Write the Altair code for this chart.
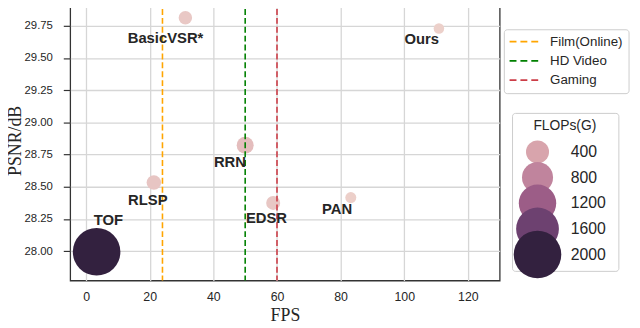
import altair as alt
import pandas as pd

# ---- data ----
methods = ["TOF", "RLSP", "BasicVSR*", "RRN", "EDSR", "PAN", "Ours"]
fps = [3.3, 21.3, 31.2, 50.0, 58.8, 83.2, 110.9]
psnr = [27.995, 28.533, 29.813, 28.822, 28.375, 28.416, 29.729]
flops = [2000, 105, 77, 177, 91, 22, 12]
# where each method name is written (data units)
label_fps = [7.0, 19.4, 24.96, 45.2, 56.7, 78.9, 105.5]
label_psnr = [28.244, 28.397, 29.656, 28.692, 28.254, 28.328, 29.644]

targets = ["Film(Online)", "HD Video", "Gaming"]
target_fps = [24, 50, 60]
target_colors = ["#ffa500", "#008000", "#cc3d47"]

size_title = "FLOPs(G)"
legend_flops = [400, 800, 1200, 1600, 2000]
legend_labels = ["400", "800", "1200", "1600", "2000"]
flops_stops = [0, 400, 800, 1200, 1600, 2000]
flops_colors = ["#edd1cb", "#d8a4ac", "#c0849d", "#9c5d87", "#6d4170", "#33213f"]
flops_areas = [100, 544, 988, 1432, 1876, 2320]

x_ticks = [0, 20, 40, 60, 80, 100, 120]
y_ticks = [28.0, 28.25, 28.5, 28.75, 29.0, 29.25, 29.5, 29.75]

pts = pd.DataFrame({"method": methods, "fps": fps, "psnr": psnr, "flops": flops})
labels = pd.DataFrame({"method": methods, "fps": label_fps, "psnr": label_psnr})
lines = pd.DataFrame({"target": targets, "fps": target_fps})
leg = pd.DataFrame({"flops": legend_flops, "label": legend_labels})
leg_title = pd.DataFrame({"t": [size_title]})

TXT = "#262626"
SANS = "Liberation Sans"

X = alt.X(
    "fps:Q",
    scale=alt.Scale(domain=[-5, 130], nice=False, zero=False),
    axis=alt.Axis(
        values=x_ticks, title="FPS", ticks=False, labelPadding=10,
        labelFont=SANS, labelFontSize=12.5, labelColor=TXT,
        titleFont="Liberation Serif", titleFontSize=18, titleFontWeight="normal",
        titleColor=TXT, titlePadding=4, domain=False,
        grid=True, gridColor="#d6d6d6", gridWidth=1.3,
    ),
)
y_scale = alt.Scale(domain=[27.772, 29.949], nice=False, zero=False)
Y = alt.Y(
    "psnr:Q",
    scale=y_scale,
    axis=alt.Axis(
        values=y_ticks, format=".2f", title="PSNR/dB", tickSize=7, tickColor="#333333",
        tickWidth=1.2, labelPadding=11, labelFont=SANS, labelFontSize=11.5,
        labelColor=TXT, titleFont="Liberation Serif", titleFontSize=18,
        titleFontWeight="normal", titleColor=TXT, titlePadding=0, domain=False,
        grid=True, gridColor="#d6d6d6", gridWidth=1.3,
    ),
)
size_scale = alt.Scale(domain=flops_stops, range=flops_areas, zero=False)
color_scale = alt.Scale(domain=flops_stops, range=flops_colors, interpolate="rgb")
stroke_scale = alt.Scale(domain=targets, range=target_colors)

points = alt.Chart(pts).mark_circle(opacity=1).encode(
    x=X,
    y=Y,
    size=alt.Size("flops:Q", scale=size_scale, legend=None),
    color=alt.Color("flops:Q", scale=color_scale, legend=None),
)

rules = alt.Chart(lines).mark_rule(strokeDash=[6, 3], strokeWidth=1.6).encode(
    x=X,
    stroke=alt.Stroke("target:N", scale=stroke_scale, legend=None),
)

texts = alt.Chart(labels).mark_text(
    font=SANS, fontWeight="bold", fontSize=15, color=TXT, align="center",
    baseline="middle",
).encode(x=X, y=alt.Y("psnr:Q", scale=y_scale, axis=None), text="method:N")

# ---- line legend ----
LINE_Y = alt.Y(
    "target:N",
    scale=alt.Scale(type="point", domain=targets, range=[42, 81], padding=0),
    axis=None,
)
line_frame = alt.Chart(leg_title).mark_rect(
    fill="white", stroke="#cccccc", strokeWidth=1, cornerRadius=3
).encode(x=alt.value(439.7), x2=alt.value(566), y=alt.value(30), y2=alt.value(94.7))
line_keys = alt.Chart(lines).mark_rule(strokeDash=[7, 4], strokeWidth=1.6).encode(
    x=alt.value(445), x2=alt.value(474), y=LINE_Y,
    stroke=alt.Stroke("target:N", scale=stroke_scale, legend=None),
)
line_text = alt.Chart(lines).mark_text(
    font=SANS, fontSize=13.5, color=TXT, align="left", baseline="middle"
).encode(x=alt.value(486), y=LINE_Y, text="target:N")

# ---- FLOPs size legend (bubbles overlap, as in the reference) ----
LEG_Y = alt.Y(
    "flops:O",
    scale=alt.Scale(type="point", domain=legend_flops, range=[153.7, 257.7], padding=0),
    axis=None,
)
leg_frame = alt.Chart(leg_title).mark_rect(
    fill="white", stroke="#cccccc", strokeWidth=1, cornerRadius=3
).encode(
    x=alt.value(448), x2=alt.value(555.7), y=alt.value(114.7), y2=alt.value(274.7)
)
leg_head = alt.Chart(leg_title).mark_text(
    font=SANS, fontSize=14, color=TXT, align="center", baseline="middle"
).encode(x=alt.value(501), y=alt.value(128), text="t:N")
leg_circles = alt.Chart(leg).mark_circle(opacity=1).encode(
    x=alt.value(473.3),
    y=LEG_Y,
    size=alt.Size("flops:Q", scale=size_scale, legend=None),
    color=alt.Color("flops:Q", scale=color_scale, legend=None),
)
leg_text = alt.Chart(leg).mark_text(
    font=SANS, fontSize=16, color=TXT, align="left", baseline="middle"
).encode(x=alt.value(507), y=LEG_Y, text="label:N")

chart = (
    alt.layer(
        points, rules, texts,
        line_frame, line_keys, line_text,
        leg_frame, leg_head, leg_circles, leg_text,
    )
    .resolve_scale(y="independent")
    .properties(
        width=435,
        height=284,
        autosize=alt.AutoSizeParams(type="none"),
        padding={"left": 63, "top": -10, "right": 134, "bottom": 46},
        background="white",
    )
    .configure_view(stroke="#333333", strokeWidth=1.3)
)

chart.save("out.html", embed_options={"renderer": "svg", "actions": False})
